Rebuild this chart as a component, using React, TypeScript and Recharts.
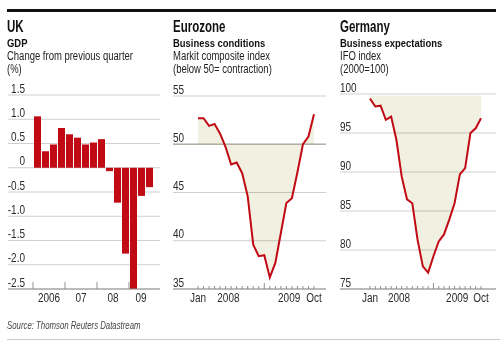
import React from 'react';
import {
  BarChart,
  Bar,
  ComposedChart,
  Area,
  Line,
  XAxis,
  YAxis,
  CartesianGrid,
  ReferenceLine,
} from 'recharts';

// UK GDP, quarter on quarter (%)
const ukQuarters = [
  '2006 Q1', '2006 Q2', '2006 Q3', '2006 Q4',
  '2007 Q1', '2007 Q2', '2007 Q3', '2007 Q4',
  '2008 Q1', '2008 Q2', '2008 Q3', '2008 Q4',
  '2009 Q1', '2009 Q2', '2009 Q3',
];
const ukGdp = [1.06, 0.34, 0.48, 0.82, 0.69, 0.62, 0.48, 0.52, 0.59, -0.07, -0.72, -1.77, -2.5, -0.58, -0.4];
const ukTicks = [-2.5, -2, -1.5, -1, -0.5, 0, 0.5, 1, 1.5];
const ukTickLabels = ['-2.5', '-2.0', '-1.5', '-1.0', '-0.5', '0', '0.5', '1.0', '1.5'];
const ukYearLabels: Record<string, string> = { '2006': '2006', '2007': '07', '2008': '08', '2009': '09' };

// monthly, Jan 2008 - Oct 2009
const months = [
  'Jan 2008', 'Feb 2008', 'Mar 2008', 'Apr 2008', 'May 2008', 'Jun 2008',
  'Jul 2008', 'Aug 2008', 'Sep 2008', 'Oct 2008', 'Nov 2008', 'Dec 2008',
  'Jan 2009', 'Feb 2009', 'Mar 2009', 'Apr 2009', 'May 2009', 'Jun 2009',
  'Jul 2009', 'Aug 2009', 'Sep 2009', 'Oct 2009',
];
const euroPmi = [52.7, 52.7, 51.9, 52.1, 51.1, 49.7, 47.9, 48.1, 47.0, 44.6, 39.6, 38.4, 38.5, 36.2, 37.7, 40.8, 43.9, 44.4, 47.1, 50.0, 50.8, 53.1];
const ifoExpect = [99.4, 98.4, 98.5, 96.7, 97.1, 94.1, 89.4, 86.5, 86.0, 81.3, 77.9, 77.1, 79.2, 81.1, 82.0, 83.9, 86.0, 89.7, 90.5, 95.0, 95.6, 96.9];
const euroTicks = [35, 40, 45, 50, 55];
const ifoTicks = [75, 80, 85, 90, 95, 100];
const euroThreshold = 50;
const ifoShadeTop = 99.8;
const monthTickLabels: Record<string, string> = {
  'Jan 2008': 'Jan',
  'Jun 2008': '2008',
  'May 2009': '2009',
  'Oct 2009': 'Oct',
};

const FONT = '"Liberation Sans", Arial, sans-serif';
const RED = '#c00a14';
const SHADE = '#f2f0e1';
const GRID = '#cfcfcf';
const AXIS = '#8f8f8f';
const TEXT = '#2a2a2a';

const ukData = ukQuarters.map((q, i) => ({ q, gdp: ukGdp[i] }));
const euroData = months.map((m, i) => ({ m, v: euroPmi[i], band: [euroThreshold, euroPmi[i]] }));
const ifoData = months.map((m, i) => ({ m, v: ifoExpect[i], band: [ifoExpect[i], ifoShadeTop] }));

const UK_BAND = 8;

// narrow-looking svg label
const NText = ({ x, y, anchor, children }: { x: number; y: number; anchor: 'start' | 'middle' | 'end'; children: React.ReactNode }) => (
  <text
    transform={`translate(${x},${y}) scale(0.8,1)`}
    textAnchor={anchor}
    fontSize={12.5}
    fill={TEXT}
    fontFamily={FONT}
  >
    {children}
  </text>
);

const UkXTick = (props: any) => {
  const { x, y, payload } = props;
  const [year, qtr] = String(payload.value).split(' ');
  const count = ukQuarters.filter(q => q.startsWith(year)).length;
  return (
    <g>
      {qtr === 'Q1' && (
        <line x1={x - UK_BAND / 2} x2={x - UK_BAND / 2} y1={y} y2={y - 7} stroke={AXIS} strokeWidth={1} />
      )}
      {qtr === 'Q2' && (
        <NText x={x + ((count - 1) / 2 - 1) * UK_BAND} y={y + 13} anchor="middle">
          {ukYearLabels[year]}
        </NText>
      )}
    </g>
  );
};

const UkYTick = (props: any) => {
  const { y, payload } = props;
  const i = ukTicks.indexOf(payload.value);
  return (
    <NText x={25} y={y - 2.5} anchor="end">
      {ukTickLabels[i]}
    </NText>
  );
};

const makeMonthTick = (step: number) => (props: any) => {
  const { x, y, payload } = props;
  const label = monthTickLabels[payload.value];
  const isYear = label && /^\d{4}$/.test(label);
  const tall = payload.value === 'Jan 2009';
  return (
    <g>
      <line x1={x} x2={x} y1={y} y2={y - (tall ? 6 : 3)} stroke={AXIS} strokeWidth={1} />
      {label && (
        <NText x={isYear ? x + step / 2 : x} y={y + 13} anchor="middle">
          {label}
        </NText>
      )}
    </g>
  );
};

const makeLeftTick = (xPos: number) => (props: any) => {
  const { y, payload } = props;
  return (
    <NText x={xPos} y={y - 2.5} anchor="start">
      {payload.value}
    </NText>
  );
};

const squeeze = (s: number): React.CSSProperties => ({
  transform: `scaleX(${s})`,
  transformOrigin: 'left center',
  whiteSpace: 'nowrap',
});

const Titles = ({ left, title, sub, lines }: { left: number; title: string; sub: string; lines: string[] }) => (
  <div style={{ position: 'absolute', left, top: 17.5, fontFamily: FONT, color: '#111' }}>
    <div style={{ fontSize: 16, fontWeight: 700, lineHeight: '18px', ...squeeze(0.72) }}>{title}</div>
    <div style={{ fontSize: 11.5, fontWeight: 700, lineHeight: '14px', ...squeeze(0.82) }}>{sub}</div>
    {lines.map(l => (
      <div key={l} style={{ fontSize: 12, lineHeight: '13px', color: '#222', ...squeeze(0.79) }}>{l}</div>
    ))}
  </div>
);

export default function App() {
  const euroStep = (153 - 25 - 12) / (months.length - 1);
  const ifoStep = (156 - 30 - 15) / (months.length - 1);
  return (
    <div style={{ position: 'fixed', left: 0, top: 0, width: 500, height: 350, background: '#fff', overflow: 'hidden' }}>
      <style>{'.recharts-area-area{mix-blend-mode:multiply}'}</style>
      <div style={{ position: 'absolute', left: 7, top: 9, width: 489, height: 3, background: '#111' }} />

      <Titles left={7} title="UK" sub="GDP" lines={['Change from previous quarter', '(%)']} />
      <Titles left={173} title="Eurozone" sub="Business conditions" lines={['Markit composite index', '(below 50= contraction)']} />
      <Titles left={340} title="Germany" sub="Business expectations" lines={['IFO index', '(2000=100)']} />

      {/* UK */}
      <div style={{ position: 'absolute', left: 0, top: 80 }}>
        <BarChart width={165} height={225} data={ukData} margin={{ top: 15, right: 5, left: 0, bottom: 0 }}>
          <CartesianGrid vertical={false} stroke={GRID} />
          <XAxis
            dataKey="q"
            interval={0}
            padding={{ left: 25, right: 7 }}
            height={16}
            tickSize={0}
            tickMargin={0}
            tickLine={false}
            axisLine={{ stroke: AXIS }}
            tick={<UkXTick />}
          />
          <YAxis
            width={8}
            domain={[-2.5, 1.5]}
            ticks={ukTicks}
            interval={0}
            axisLine={false}
            tickLine={false}
            tick={<UkYTick />}
          />
          <Bar dataKey="gdp" fill={RED} barSize={7} isAnimationActive={false} />
        </BarChart>
      </div>

      {/* Eurozone */}
      <div style={{ position: 'absolute', left: 165, top: 80 }}>
        <ComposedChart width={165} height={225} data={euroData} margin={{ top: 16, right: 4, left: 0, bottom: 0 }}>
          <CartesianGrid vertical={false} stroke={GRID} />
          <XAxis
            dataKey="m"
            scale="point"
            interval={0}
            padding={{ left: 25, right: 12 }}
            height={16}
            tickSize={0}
            tickMargin={0}
            tickLine={false}
            axisLine={{ stroke: AXIS }}
            tick={makeMonthTick(euroStep)}
          />
          <YAxis
            width={8}
            domain={[35, 55]}
            ticks={euroTicks}
            interval={0}
            axisLine={false}
            tickLine={false}
            tick={makeLeftTick(8)}
          />
          <Area dataKey="band" type="linear" stroke="none" fill={SHADE} fillOpacity={1} isAnimationActive={false} />
          <ReferenceLine y={euroThreshold} stroke="#b2b0a4" strokeWidth={1.5} />
          <Line dataKey="v" type="linear" stroke={RED} strokeWidth={2} dot={false} isAnimationActive={false} />
        </ComposedChart>
      </div>

      {/* Germany */}
      <div style={{ position: 'absolute', left: 330, top: 80 }}>
        <ComposedChart width={170} height={225} data={ifoData} margin={{ top: 14, right: 4, left: 0, bottom: 0 }}>
          <CartesianGrid vertical={false} stroke={GRID} />
          <XAxis
            dataKey="m"
            scale="point"
            interval={0}
            padding={{ left: 30, right: 15 }}
            height={16}
            tickSize={0}
            tickMargin={0}
            tickLine={false}
            axisLine={{ stroke: AXIS }}
            tick={makeMonthTick(ifoStep)}
          />
          <YAxis
            width={10}
            domain={[75, 100]}
            ticks={ifoTicks}
            interval={0}
            axisLine={false}
            tickLine={false}
            tick={makeLeftTick(10)}
          />
          <Area dataKey="band" type="linear" stroke="none" fill={SHADE} fillOpacity={1} isAnimationActive={false} />
          <Line dataKey="v" type="linear" stroke={RED} strokeWidth={2} dot={false} isAnimationActive={false} />
        </ComposedChart>
      </div>

      <div
        style={{
          position: 'absolute',
          left: 7,
          top: 320,
          fontFamily: FONT,
          fontStyle: 'italic',
          fontSize: 10,
          color: '#444',
          ...squeeze(0.78),
        }}
      >
        Source: Thomson Reuters Datastream
      </div>
      <div style={{ position: 'absolute', left: 7, top: 339, width: 493, height: 1, background: '#ccc' }} />
    </div>
  );
}
